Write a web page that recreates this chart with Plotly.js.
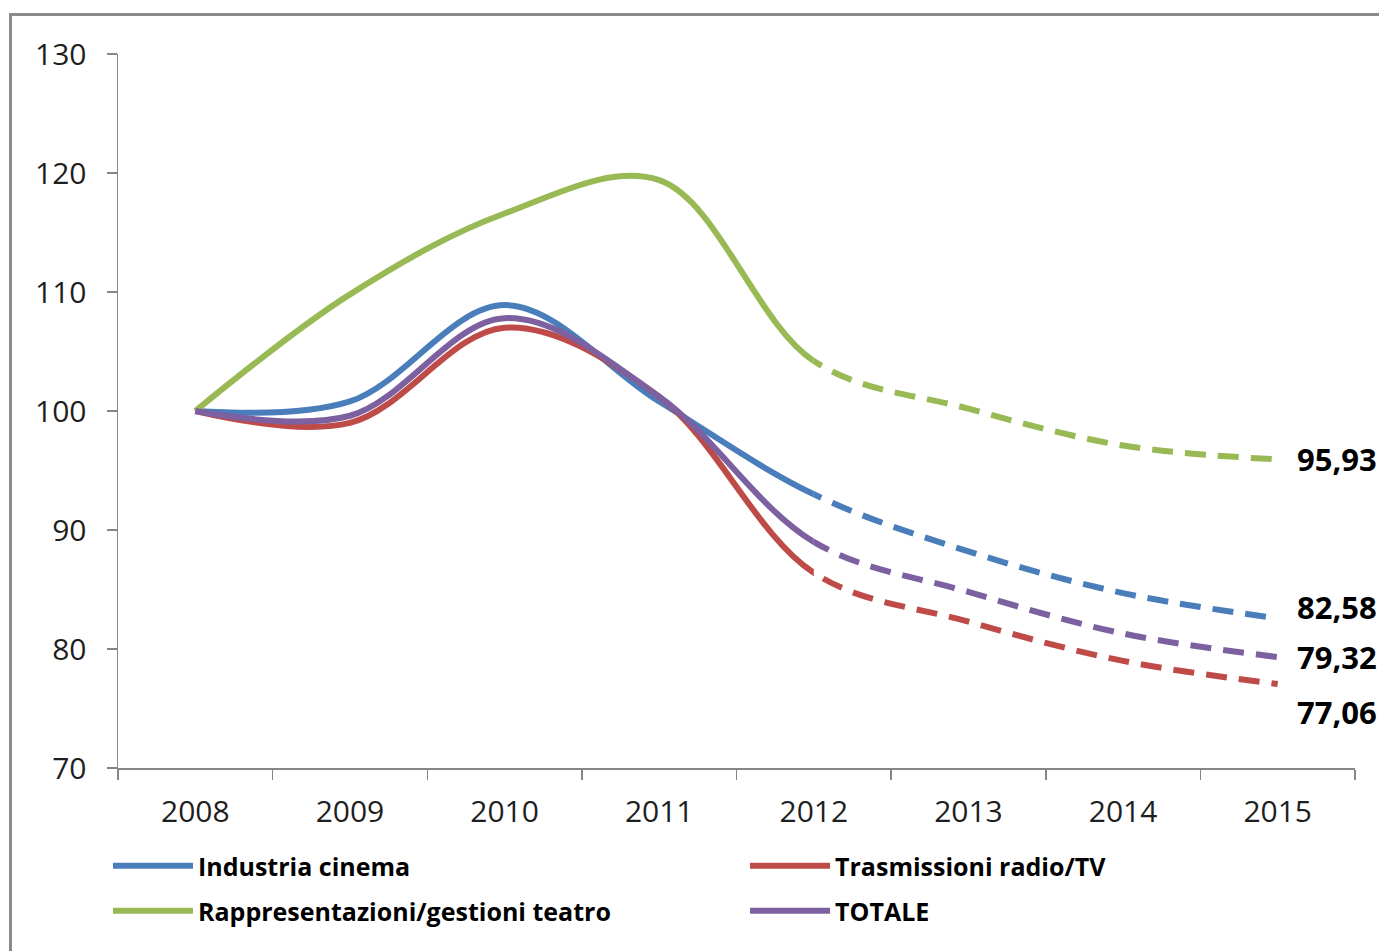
<!DOCTYPE html>
<html>
<head>
<meta charset="utf-8">
<script src="https://cdn.plot.ly/plotly-3.0.1.min.js"></script>
<style>
  html, body { margin: 0; padding: 0; background: #ffffff; overflow: hidden; }
  #chart { position: absolute; left: 0; top: 0; width: 1379px; height: 951px; }
  #frame { position: absolute; left: 9px; top: 13px; width: 1400px; height: 1000px;
           border-left: 3px solid #8a8a8a; border-top: 3px solid #8a8a8a; pointer-events: none; }
</style>
</head>
<body>
<div id="chart"></div>
<div id="frame"></div>
<script>
const years = ['2008', '2009', '2010', '2011', '2012', '2013', '2014', '2015'];
const lastActualYear = '2012'; // solid up to here, dashed (forecast) afterwards

const seriesNames = ['Industria cinema', 'Trasmissioni radio/TV', 'Rappresentazioni/gestioni teatro', 'TOTALE'];
const seriesColors = ['#4a7ebb', '#be4b48', '#98b954', '#7d60a0'];

const cinema = [100, 100.8, 108.9, 100.8, 93.0, 88.2, 84.7, 82.58];
const radioTv = [100, 99.0, 107.0, 101.2, 86.4, 82.3, 79.0, 77.06];
const teatro = [100, 109.8, 116.6, 119.4, 104.2, 100.2, 97.1, 95.93];
const totale = [100, 99.6, 107.8, 101.2, 89.0, 84.8, 81.3, 79.32];

const endLabels = ['82,58', '77,06', '95,93', '79,32'];
const labelShift = [11, -28, 0, 0];

const allSeries = [cinema, radioTv, teatro, totale];
const legendIds = ['legend', 'legend2', 'legend3', 'legend4'];

// split point: the same smooth curve is drawn solid on the left part of the
// plot and dashed on the right part (two x axes with identical scale)
const splitIdx = years.indexOf(lastActualYear);
const rangeLo = -0.5, rangeHi = years.length - 0.5;
const splitFrac = (splitIdx - rangeLo) / (rangeHi - rangeLo);

const traces = [];
allSeries.forEach((vals, i) => {
  traces.push({
    x: years, y: vals, xaxis: 'x2', yaxis: 'y', type: 'scatter', mode: 'lines',
    name: seriesNames[i], legend: legendIds[i],
    line: { color: seriesColors[i], width: 6, shape: 'spline', smoothing: 1 },
    hoverinfo: 'x+y'
  });
});
allSeries.forEach((vals, i) => {
  traces.push({
    x: years, y: vals, xaxis: 'x3', yaxis: 'y', type: 'scatter', mode: 'lines',
    name: seriesNames[i], showlegend: false,
    line: { color: seriesColors[i], width: 6, shape: 'spline', smoothing: 1, dash: '21px,12px' },
    hoverinfo: 'x+y'
  });
});

const lastIdx = years.length - 1;
const annotations = allSeries.map((vals, i) => ({
  x: lastIdx, y: vals[lastIdx], xref: 'x', yref: 'y', text: endLabels[i],
  showarrow: false, xanchor: 'left', yanchor: 'middle', xshift: 17, yshift: labelShift[i],
  font: { family: 'Open Sans, sans-serif', size: 31, color: '#000000', weight: 'bold' }
}));

const axisFont = { family: 'Open Sans, sans-serif', size: 30, color: '#1e1e1e' };
const legendFont = { family: 'Open Sans, sans-serif', size: 25, color: '#000000', weight: 'bold' };

function legendAt(x, y) {
  return {
    orientation: 'h', x: x, xanchor: 'left', y: y, yanchor: 'middle',
    itemwidth: 80, font: legendFont, bgcolor: 'rgba(0,0,0,0)', borderwidth: 0
  };
}

function hiddenCatAxis(domain, range) {
  return {
    type: 'category', categoryorder: 'array', categoryarray: years,
    domain: domain, range: range, visible: false, anchor: 'y',
    showgrid: false, zeroline: false, fixedrange: true
  };
}

const layout = {
  width: 1379, height: 951,
  margin: { l: 118, r: 24, t: 54, b: 183, autoexpand: false },
  paper_bgcolor: 'rgba(0,0,0,0)', plot_bgcolor: 'rgba(0,0,0,0)',
  showlegend: true,
  xaxis: {
    type: 'category', categoryorder: 'array', categoryarray: years,
    range: [rangeLo, rangeHi], showgrid: false, zeroline: false,
    showline: true, linecolor: '#868686', linewidth: 1.5,
    ticks: 'outside', tickson: 'boundaries', ticklen: 10, tickcolor: '#868686', tickwidth: 1.5,
    tickfont: axisFont, ticklabelstandoff: 16
  },
  xaxis2: hiddenCatAxis([0, splitFrac], [rangeLo, splitIdx]),
  xaxis3: hiddenCatAxis([splitFrac, 1], [splitIdx, rangeHi]),
  yaxis: {
    range: [70, 130], dtick: 10, tick0: 70, showgrid: false, zeroline: false,
    showline: true, linecolor: '#868686', linewidth: 1.5,
    ticks: 'outside', ticklen: 10, tickcolor: '#868686', tickwidth: 1.5,
    tickfont: axisFont, ticklabelstandoff: 14
  },
  legend: legendAt(-0.0081, -0.1373),
  legend2: legendAt(0.5069, -0.1373),
  legend3: legendAt(-0.0081, -0.2003),
  legend4: legendAt(0.5069, -0.2003),
  annotations: annotations
};

Plotly.newPlot('chart', traces, layout, { displayModeBar: false, staticPlot: true });
</script>
</body>
</html>
